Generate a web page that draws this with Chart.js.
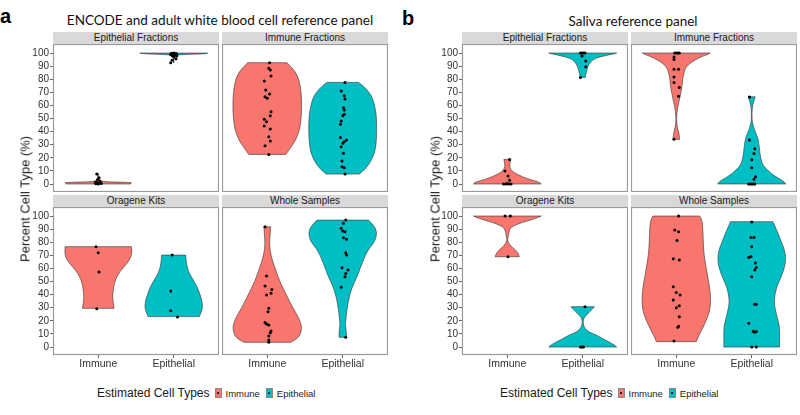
<!DOCTYPE html>
<html><head><meta charset="utf-8">
<script src="https://cdn.jsdelivr.net/npm/chart.js@4.4.0/dist/chart.umd.min.js"></script>
<style>
html,body{margin:0;padding:0;background:#fff;}
#root{position:relative;width:800px;height:415px;overflow:hidden;font-family:"Liberation Sans",Arial,sans-serif;}
canvas{position:absolute;}
.strip{position:absolute;background:#d9d9d9;color:#1a1a1a;font-size:10px;text-align:center;line-height:12px;height:12px;white-space:nowrap;}
.title{position:absolute;font-family:Lato,"Open Sans",sans-serif;font-size:13.5px;color:#111;white-space:nowrap;transform:translate(-50%,-50%);}
.letter{position:absolute;font-weight:bold;font-size:20px;color:#000;line-height:23px;}
.ytitle{position:absolute;font-size:13px;color:#1a1a1a;white-space:nowrap;transform:translate(-50%,-50%) rotate(-90deg);}
.legend{position:absolute;display:flex;align-items:center;white-space:nowrap;color:#1a1a1a;}
.legend .lt{font-size:12px;margin-right:5px;}
.legend .key{display:inline-block;width:7px;height:10px;border:1px solid #888;box-sizing:border-box;position:relative;margin-right:4px;}
.legend .key::after{content:"";position:absolute;left:1.5px;top:3px;width:2px;height:2px;background:#000;border-radius:1px;}
.legend .li{font-size:9.5px;margin-right:6px;}
</style></head>
<body><div id="root"></div>
<script>
// ---------------- DATA ----------------
const categories = ['Immune', 'Epithelial'];
const facetNames = ['Epithelial Fractions', 'Immune Fractions', 'Oragene Kits', 'Whole Samples'];
const yTicks = [0, 10, 20, 30, 40, 50, 60, 70, 80, 90, 100];
const panelTitles = ['ENCODE and adult white blood cell reference panel', 'Saliva reference panel'];
const panelLetters = ['a', 'b'];
const axisTitle = 'Percent Cell Type (%)';
const legendTitle = 'Estimated Cell Types';
const seriesColors = ['#F8766D', '#00BFC4'];

// Violin outlines: [percent value, half-width in category units]
// Points: [jittered category position, percent value]
// ---- Panel a: ENCODE / adult WBC reference ----
const aEF_immV = [[0,0.42],[0.6,0.44],[1.2,0.44],[1.7,0.1],[2.5,0.02],[4,0.008],[8,0.004]];
const aEF_immP = [[0.98,7.6],[1.01,4.8],[0.99,3.4],[1.02,2.3],[0.97,1.6],[1.03,1.1],[0.99,0.8],[1.01,0.5],[0.97,0.2],[1.04,0.3],[1.0,0.1],[0.96,0.9]];
const aEF_epiV = [[92.4,0.002],[95,0.004],[97.5,0.01],[98.8,0.05],[99.4,0.43],[100,0.45]];
const aEF_epiP = [[2.0,100],[1.97,99.8],[2.03,99.6],[1.99,99.3],[2.04,99],[1.96,98.8],[2.02,98.5],[1.98,98],[2.04,97.7],[2.0,97.2],[2.03,95.6],[1.98,94.5],[1.96,92.6]];

const aIF_immV = [[22.6,0.245],[27,0.3],[32,0.36],[38,0.41],[45,0.44],[55,0.455],[65,0.455],[75,0.44],[83,0.4],[88,0.34],[92.6,0.26]];
const aIF_immP = [[1.03,92.6],[1.02,88.3],[1.04,87],[1.05,82.4],[0.96,78.6],[0.98,71.8],[1.03,68.7],[0.97,66.6],[1.0,65.4],[1.05,55.2],[1.04,52.1],[0.96,49.4],[0.99,47.6],[0.96,44.3],[1.04,42],[1.02,36.1],[1.04,32.8],[0.97,29.2],[1.02,22.6]];
const aIF_epiV = [[7.6,0.22],[10,0.27],[13,0.32],[18,0.38],[25,0.43],[35,0.45],[50,0.45],[58,0.43],[65,0.4],[70,0.35],[74,0.29],[77.6,0.21]];
const aIF_epiP = [[2.03,77.6],[1.98,71],[2.02,67.4],[2.03,64.9],[2.01,58.2],[2.02,56.5],[2.0,52.1],[2.02,53.2],[1.98,48.1],[1.97,45.6],[1.97,35.6],[2.05,33.6],[2.02,32.3],[2.0,31.1],[1.98,28.5],[2.01,23.4],[1.99,17.6],[1.99,13.2],[2.02,12.5],[2.03,7.6]];

const aOK_immV = [[29.5,0.21],[33,0.2],[38,0.19],[45,0.2],[52,0.23],[58,0.29],[63,0.37],[68,0.43],[72,0.445],[76.6,0.44]];
const aOK_immP = [[0.97,76.6],[1.0,72],[1.01,57.3],[0.98,29.3]];
const aOK_epiV = [[23.2,0.34],[26,0.36],[29,0.38],[34,0.38],[40,0.35],[46,0.31],[52,0.25],[58,0.19],[65,0.165],[70.2,0.16]];
const aOK_epiP = [[1.98,70.2],[1.96,42.7],[1.96,27.7],[2.05,22.9]];

const aWS_immV = [[3.6,0.31],[5.5,0.37],[7.9,0.42],[10,0.44],[14.3,0.455],[17,0.45],[21.9,0.42],[26,0.38],[32,0.32],[38,0.27],[44.8,0.21],[51,0.16],[57.5,0.12],[64,0.08],[70,0.05],[75,0.035],[81,0.03],[87,0.04],[91.8,0.045]];
const aWS_immP = [[0.97,91.8],[0.99,54.2],[0.97,46.6],[1.06,44],[1.05,41],[0.99,39.7],[1.02,29.5],[1.01,27],[0.97,18.8],[0.99,17.6],[1.02,16.8],[1.05,12.2],[1.04,10.9],[1.02,8.4],[1.02,5.3],[1.02,3.6]];
const aWS_epiV = [[7.4,0.047],[10,0.05],[13,0.045],[17,0.035],[21.9,0.044],[26,0.05],[32,0.066],[38,0.085],[44.8,0.12],[50,0.16],[55,0.2],[60,0.23],[65,0.265],[70,0.3],[75.3,0.35],[80,0.42],[85.5,0.45],[89,0.445],[93,0.41],[96.9,0.34]];
const aWS_epiP = [[2.04,96.9],[2.01,94.4],[1.98,90.6],[2.0,88.5],[2.03,88],[2.01,83.4],[2.05,82.2],[2.04,72],[2.05,70.2],[1.99,60.5],[2.07,58.8],[2.04,56.2],[2.03,53.7],[1.98,45.6],[2.04,7.4]];

// ---- Panel b: saliva reference ----
const bEF_immV = [[0,0.45],[1.2,0.43],[2.5,0.36],[4,0.27],[5.6,0.2],[8,0.11],[10,0.06],[12,0.04],[14.5,0.03],[17,0.04],[18.8,0.045]];
const bEF_immP = [[1.03,18.8],[0.97,9.9],[1.01,6.1],[1.03,2.8],[0.95,0],[0.98,0],[1.02,0],[1.05,0],[1.0,0.3]];
const bEF_epiV = [[81.4,0.035],[84,0.04],[87,0.055],[90,0.07],[93,0.1],[95,0.14],[96.5,0.19],[98,0.3],[99,0.38],[100,0.45]];
const bEF_epiP = [[1.97,100],[1.99,100],[2.01,100],[2.03,100],[1.99,97.7],[2.04,94],[2.04,89.6],[1.97,81.4]];

const bIF_immV = [[34.1,0.044],[36.5,0.04],[39,0.035],[42,0.02],[45,0.01],[48,0.005],[52,0.006],[56,0.012],[60,0.025],[64,0.04],[68,0.055],[74,0.075],[80,0.085],[85,0.1],[89.6,0.13],[93.4,0.21],[96,0.29],[97.5,0.35],[99,0.42],[100,0.45]];
const bIF_immP = [[0.98,100],[1.0,100],[1.02,100],[1.04,100],[0.97,97],[0.97,95],[0.97,87.6],[1.03,87.6],[0.97,81.7],[0.97,77.6],[1.04,73.6],[1.03,67],[0.97,34.1]];
const bIF_epiV = [[0,0.45],[1.8,0.43],[3.5,0.38],[5.6,0.32],[8,0.26],[10.7,0.21],[14,0.15],[18.3,0.125],[23,0.11],[28.5,0.1],[33,0.088],[36.1,0.075],[40,0.045],[43.7,0.025],[47,0.008],[51,0.004],[55,0.004],[58,0.008],[62,0.02],[64.5,0.035],[66.6,0.046]];
const bIF_epiP = [[1.97,66.4],[1.97,33.6],[2.04,27],[2.03,23.2],[2.0,18.6],[2.0,12.5],[2.05,5.6],[2.03,3.7],[1.96,0],[1.98,0],[2.0,0],[2.02,0],[2.04,0]];

const bOK_immV = [[68.9,0.16],[71,0.15],[74,0.11],[76,0.07],[78,0.035],[80,0.012],[82,0.004],[84,0.01],[86,0.018],[89,0.028],[91,0.045],[93,0.1],[95,0.19],[97,0.31],[98.5,0.39],[100,0.45]];
const bOK_immP = [[0.97,100],[1.04,100],[1.01,68.9]];
const bOK_epiV = [[0,0.45],[1.6,0.42],[4.1,0.34],[6.5,0.26],[9.2,0.18],[11.5,0.08],[14.2,0.03],[16.5,0.012],[19.3,0.005],[21.5,0.012],[23.2,0.03],[25,0.06],[27,0.093],[29,0.13],[30.8,0.155]];
const bOK_epiP = [[2.03,30.8],[1.97,0],[1.99,0],[2.01,0]];

const bWS_immV = [[4.1,0.265],[7.9,0.29],[14.3,0.35],[21.9,0.41],[28,0.445],[34.6,0.455],[42,0.45],[49.9,0.43],[56,0.41],[62.6,0.39],[70,0.37],[77,0.36],[85,0.355],[92,0.35],[97,0.34],[100,0.31]];
const bWS_immP = [[1.03,100],[0.98,89.3],[1.03,88],[1.01,81.4],[0.96,67.4],[1.04,66.4],[0.96,46],[1.0,41.7],[1.05,39.8],[0.96,35.9],[1.04,31.5],[1.0,30],[1.04,23.1],[1.03,15.8],[1.02,15],[0.97,4.6]];
const bWS_epiV = [[0,0.37],[6.6,0.37],[12,0.37],[16.8,0.365],[22,0.34],[27,0.32],[32,0.3],[37.2,0.3],[42,0.315],[47.3,0.34],[52,0.38],[57.5,0.415],[62,0.44],[67.7,0.45],[73,0.44],[77.9,0.41],[83,0.375],[88,0.34],[92,0.31],[95.7,0.28]];
const bWS_epiP = [[2.0,95.5],[1.99,83.7],[2.03,83.7],[2.0,76.6],[1.96,68.3],[1.99,69.2],[2.05,64.2],[2.06,60.7],[2.04,58.8],[2.0,53.7],[2.04,32.7],[2.06,32.7],[1.96,18.1],[2.02,12],[2.04,11.3],[2.06,11.8],[2.0,0],[2.06,0]];

const panels = [
  [[aEF_immV,aEF_immP,aEF_epiV,aEF_epiP],[aIF_immV,aIF_immP,aIF_epiV,aIF_epiP],[aOK_immV,aOK_immP,aOK_epiV,aOK_epiP],[aWS_immV,aWS_immP,aWS_epiV,aWS_epiP]],
  [[bEF_immV,bEF_immP,bEF_epiV,bEF_epiP],[bIF_immV,bIF_immP,bIF_epiV,bIF_epiP],[bOK_immV,bOK_immP,bOK_epiV,bOK_epiP],[bWS_immV,bWS_immP,bWS_epiV,bWS_epiP]]
];

// ---------------- LAYOUT ----------------
const root = document.getElementById('root');
const colLefts = [[53, 222], [462, 631]];
const facetW = 166;
const plotTops = [44, 207];
const plotH = 148;
const stripH = 12;
const ML = 45, MB = 20;
const FONT = '"Liberation Sans", Arial, sans-serif';

function el(cls, text, style) {
  const d = document.createElement('div');
  d.className = cls;
  if (text != null) d.textContent = text;
  Object.assign(d.style, style || {});
  root.appendChild(d);
  return d;
}

function smoothPath(ctx, pts, first) {
  if (first) ctx.moveTo(pts[0][0], pts[0][1]); else ctx.lineTo(pts[0][0], pts[0][1]);
  for (let i = 1; i < pts.length - 1; i++) {
    const mx = (pts[i][0] + pts[i + 1][0]) / 2, my = (pts[i][1] + pts[i + 1][1]) / 2;
    ctx.quadraticCurveTo(pts[i][0], pts[i][1], mx, my);
  }
  const l = pts[pts.length - 1];
  ctx.lineTo(l[0], l[1]);
}

function makeViolinPlugin(shapes) {
  return {
    id: 'violins',
    beforeDatasetsDraw(chart) {
      const { ctx, scales: { x, y } } = chart;
      ctx.save();
      for (const sh of shapes) {
        const right = sh.outline.map(([v, w]) => [x.getPixelForValue(sh.cx + w), y.getPixelForValue(v)]);
        const left = sh.outline.map(([v, w]) => [x.getPixelForValue(sh.cx - w), y.getPixelForValue(v)]).reverse();
        ctx.beginPath();
        smoothPath(ctx, right, true);
        smoothPath(ctx, left, false);
        ctx.closePath();
        ctx.fillStyle = sh.color;
        ctx.fill();
        ctx.lineWidth = 0.6;
        ctx.strokeStyle = '#333';
        ctx.stroke();
      }
      ctx.restore();
    }
  };
}

const framePlugin = {
  id: 'frame',
  afterDatasetsDraw(chart) {
    const { ctx, chartArea: a } = chart;
    ctx.save();
    ctx.strokeStyle = '#9a9a9a';
    ctx.lineWidth = 1.2;
    ctx.strokeRect(a.left + 0.5, a.top + 0.5, a.right - a.left - 1, a.bottom - a.top - 1);
    ctx.restore();
  }
};

function noPad(s) { s.paddingTop = 0; s.paddingBottom = 0; s.paddingLeft = 0; s.paddingRight = 0; }

for (let p = 0; p < 2; p++) {
  for (let r = 0; r < 2; r++) {
    for (let c = 0; c < 2; c++) {
      const f = r * 2 + c;
      const [immV, immP, epiV, epiP] = panels[p][f];
      const showX = r === 1, showY = c === 0;
      const left = colLefts[p][c] - (showY ? ML : 0);
      const top = plotTops[r];
      const w = facetW + (showY ? ML : 0);
      const h = plotH + (showX ? MB : 0);
      el('strip', facetNames[f], { left: colLefts[p][c] + 'px', top: (plotTops[r] - stripH) + 'px', width: facetW + 'px' });
      const cv = document.createElement('canvas');
      cv.width = w; cv.height = h;
      cv.style.left = left + 'px'; cv.style.top = top + 'px';
      cv.style.width = w + 'px'; cv.style.height = h + 'px';
      root.appendChild(cv);
      const shapes = [
        { cx: 1, outline: immV, color: seriesColors[0] },
        { cx: 2, outline: epiV, color: seriesColors[1] }
      ];
      new Chart(cv.getContext('2d'), {
        type: 'scatter',
        data: {
          datasets: [
            { label: categories[0], data: immP.map(([x, y]) => ({ x, y })), backgroundColor: '#000', borderWidth: 0, pointRadius: 1.5, hoverRadius: 0 },
            { label: categories[1], data: epiP.map(([x, y]) => ({ x, y })), backgroundColor: '#000', borderWidth: 0, pointRadius: 1.5, hoverRadius: 0 }
          ]
        },
        options: {
          responsive: false, animation: false, events: [],
          devicePixelRatio: 1,
          layout: { padding: 0, autoPadding: false },
          plugins: { legend: { display: false }, tooltip: { enabled: false } },
          scales: {
            x: {
              type: 'linear', min: 0.4, max: 2.6, display: showX,
              afterBuildTicks: s => { s.ticks = [{ value: 1 }, { value: 2 }]; },
              afterFit: s => { s.height = showX ? MB : 0; noPad(s); },
              ticks: { callback: v => categories[Math.round(v) - 1], font: { family: FONT, size: 10.5 }, color: '#333', padding: 0, maxRotation: 0, autoSkip: false },
              grid: { drawOnChartArea: false, drawTicks: true, tickLength: 3, color: '#666' },
              border: { display: false }
            },
            y: {
              type: 'linear', min: -6.1, max: 106.9, display: showY,
              afterBuildTicks: s => { s.ticks = yTicks.map(v => ({ value: v })); },
              afterFit: s => { s.width = showY ? ML : 0; noPad(s); },
              ticks: { font: { family: FONT, size: 10 }, color: '#333', padding: 1, autoSkip: false },
              grid: { drawOnChartArea: false, drawTicks: true, tickLength: 3, color: '#666' },
              border: { display: false }
            }
          }
        },
        plugins: [makeViolinPlugin(shapes), framePlugin]
      });
    }
  }
}

// titles, letters, axis titles, legends
const titleCenters = [[220, 20], [633, 21]];
const letterPos = [[0, 5], [402, 7]];
const yTitleX = [25, 435];
const legendLefts = [97, 500];
for (let p = 0; p < 2; p++) {
  el('title', panelTitles[p], { left: titleCenters[p][0] + 'px', top: titleCenters[p][1] + 'px' });
  el('letter', panelLetters[p], { left: letterPos[p][0] + 'px', top: letterPos[p][1] + 'px' });
  el('ytitle', axisTitle, { left: yTitleX[p] + 'px', top: '199px' });
  const lg = el('legend', null, { left: legendLefts[p] + 'px', top: '386px', height: '14px' });
  const t = document.createElement('span'); t.className = 'lt'; t.textContent = legendTitle; lg.appendChild(t);
  categories.forEach((cat, i) => {
    const k = document.createElement('span'); k.className = 'key'; k.style.background = seriesColors[i]; lg.appendChild(k);
    const s = document.createElement('span'); s.className = 'li'; s.textContent = cat; lg.appendChild(s);
  });
}
</script>
</body></html>
